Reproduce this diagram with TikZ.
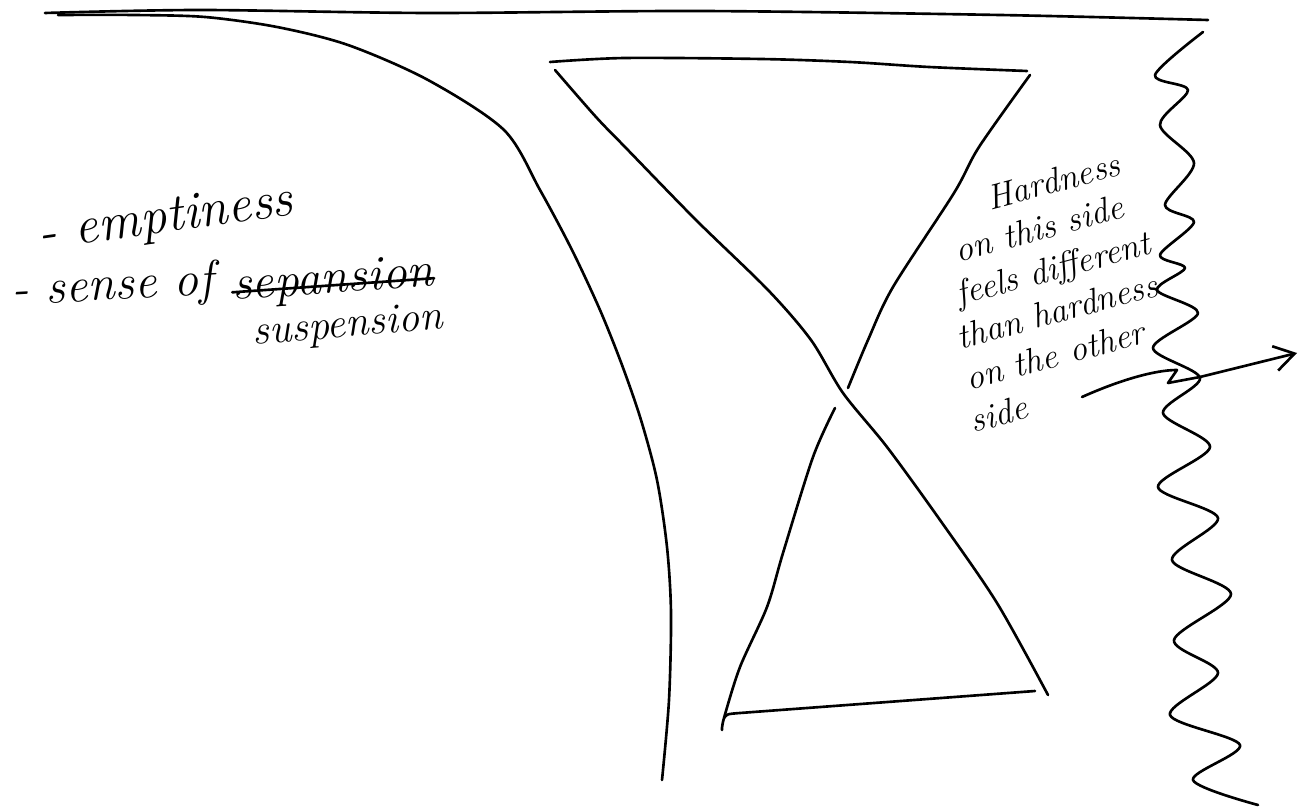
\documentclass[tikz,border=0pt]{standalone}
\usepackage{tikz}
\usetikzlibrary{arrows.meta}

\begin{document}
\begin{tikzpicture}[
    x=0.02cm, y=-0.02cm,
    pen/.style={line width=1.5pt, line cap=round, line join=round},
    hand/.style={font=\itshape\fontsize{28}{32}\selectfont, inner sep=0pt},
    note/.style={font=\itshape\fontsize{20}{24}\selectfont, inner sep=0pt, align=left},
    arr/.style={pen, -{Straight Barb[length=4mm, width=5mm, line width=1.5pt]}},
]
\useasboundingbox (0,0) rectangle (1306,807);

% ---- top edge ----
\draw[pen] plot[smooth] coordinates {(45,13) (200,10) (430,13) (700,11) (1000,15) (1208,20)};

% ---- big curve ----
\draw[pen] plot[smooth] coordinates {(58,15) (134,15) (205,17) (277,27) (348,45) (428,80) (504,130)
  (540,190) (572,250) (600,310) (622,365) (641,420) (657,480) (667,547) (671,613) (669,700) (662,780)};

% ---- hourglass ----
\draw[pen] plot[smooth] coordinates {(550,62) (625,58) (761,59) (850,62) (929,67) (1027,71)};
\draw[pen] plot[smooth] coordinates {(555,70) (596,117) (625,147) (696,220) (768,290) (811,340)
  (843,393) (887,447) (940,520) (997,603) (1048,695)};
\draw[pen] plot[smooth] coordinates {(1030,75) (979,147) (954,193) (893,287) (868,340) (848,388)};
\draw[pen] plot[smooth] coordinates {(835,408) (813,457) (783,553) (767,607) (740,667) (724,718) (722,730)};
\draw[pen] (724,718) .. controls (727,714) .. (740,713) -- (1035,691);

% ---- wavy edge ----
\draw[pen] plot[smooth] coordinates {(1203,32) (1155,75) (1188,90) (1160,125) (1194,163) (1165,205)
  (1194,222) (1160,255) (1185,268) (1157,290) (1198,313) (1153,348) (1200,378) (1163,413) (1210,447)
  (1158,487) (1218,518) (1172,560) (1231,594) (1174,640) (1218,673) (1170,715) (1240,745) (1193,780)
  (1258,805)};

% ---- left notes ----
\node[hand, font=\itshape\fontsize{30}{34}\selectfont, rotate=8, anchor=base west] (empt) at (40,250) {- emptiness};
\node[hand, rotate=3, anchor=base west] (sense) at (12,305) {- sense of};
\node[hand, rotate=4, anchor=base west] (sep) at (233,300) {sepansion};
\draw[pen] ([yshift=-2pt]sep.west) -- ([yshift=-2pt]sep.east);
\node[hand, font=\itshape\fontsize{24}{28}\selectfont, rotate=5, anchor=base west] (susp) at (253,345) {suspension};

% ---- right note + arrow ----
\node[note, rotate=15] (hard) at (1049,291) {\hspace*{42pt}Hardness\\
  \hspace*{17pt}on this side\\ \hspace*{11pt}feels different\\ \hspace*{5pt}than hardness\\
  \hspace*{4pt}on the other\\ side};
\coordinate (arrstart) at (1082,397);
\coordinate (arrtip) at (1297,353);
\draw[arr] (arrstart) .. controls (1120,380) and (1155,370) .. (1177,370) -- (1168,383) -- (1200,377) -- (arrtip);

\end{tikzpicture}
\end{document}
